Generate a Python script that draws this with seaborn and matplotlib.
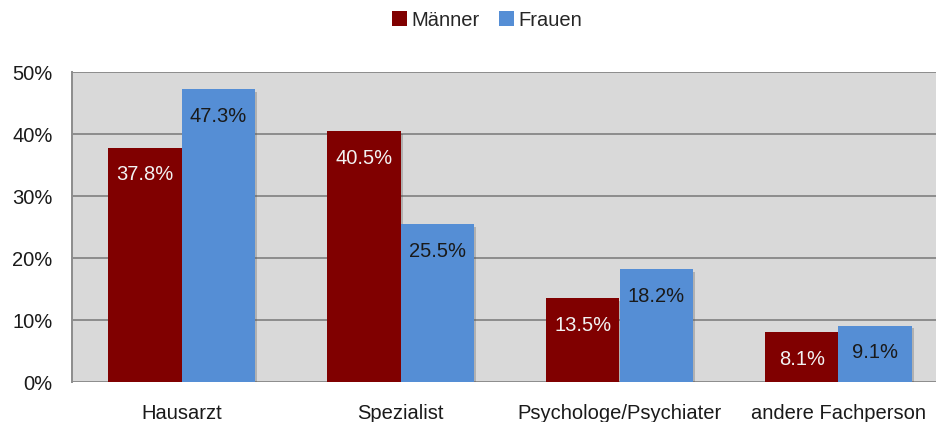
import matplotlib
matplotlib.use("Agg")
import matplotlib.pyplot as plt
import matplotlib.patheffects as pe
from matplotlib.patches import Patch
from matplotlib.ticker import FuncFormatter, FixedLocator
import seaborn as sns
import pandas as pd

categories = ["Hausarzt", "Spezialist", "Psychologe/Psychiater", "andere Fachperson"]
maenner = [37.8, 40.5, 13.5, 8.1]
frauen = [47.3, 25.5, 18.2, 9.1]
series = ["Männer", "Frauen"]
colors = {"Männer": "#800000", "Frauen": "#558ed5"}
label_colors = {"Männer": "#f2f2f2", "Frauen": "#1a1a1a"}

df = pd.DataFrame({
    "Kategorie": categories * 2,
    "Geschlecht": [series[0]] * 4 + [series[1]] * 4,
    "Anteil": maenner + frauen,
})

sns.set_style("white")
plt.rcParams["font.family"] = ["Liberation Sans", "DejaVu Sans"]

fig = plt.figure(figsize=(9.37, 4.22), dpi=100)
ax = fig.add_axes([72 / 937, 40 / 422, 876 / 937, 310 / 422])
ax.set_facecolor("#d9d9d9")

sns.barplot(data=df, x="Kategorie", y="Anteil", hue="Geschlecht",
            order=categories, hue_order=series, palette=colors,
            width=0.667, gap=0, saturation=1, legend=False, ax=ax,
            errorbar=None, zorder=3)

shadow = [pe.SimplePatchShadow(offset=(2, -2), shadow_rgbFace="#555555", alpha=0.3), pe.Normal()]
for container, name in zip(ax.containers, series):
    for bar in container:
        bar.set_linewidth(0)
        bar.set_path_effects(shadow)
        h = bar.get_height()
        ax.text(bar.get_x() + bar.get_width() / 2, h - 4.4, f"{h:.1f}%",
                ha="center", va="center", fontsize=14.5,
                color=label_colors[name], zorder=5)

ax.set_xlim(-0.5, 3.5)
ax.set_ylim(0, 50)
ax.yaxis.set_major_locator(FixedLocator([0, 10, 20, 30, 40, 50]))
ax.yaxis.set_major_formatter(FuncFormatter(lambda v, _: f"{v:.0f}%"))
ax.grid(axis="y", color="#8c8c8c", linewidth=1.4, zorder=1)
ax.set_axisbelow(True)

for s in ["top", "right", "bottom"]:
    ax.spines[s].set_visible(False)
ax.spines["left"].set_color("#8c8c8c")
ax.spines["left"].set_linewidth(1.4)

ax.tick_params(axis="y", which="major", length=7, width=1.4, color="#8c8c8c",
               labelsize=14.5, labelcolor="#1a1a1a", pad=7)
ax.tick_params(axis="x", which="major", length=0, labelsize=14.5,
               labelcolor="#1a1a1a", pad=16)
ax.xaxis.set_minor_locator(FixedLocator([-0.5, 0.5, 1.5, 2.5]))
ax.tick_params(axis="x", which="minor", length=6, width=1.4, color="#8c8c8c")
ax.set_xlabel("")
ax.set_ylabel("")

handles = [Patch(facecolor=colors[s], edgecolor="none", label=s) for s in series]
fig.legend(handles=handles, loc="center", bbox_to_anchor=(487 / 937, 1 - 20 / 422),
           ncol=2, frameon=False, fontsize=14.5, handlelength=0.75, handleheight=0.75,
           handletextpad=0.2, columnspacing=1.0)

fig.savefig("out.png", dpi=100)
